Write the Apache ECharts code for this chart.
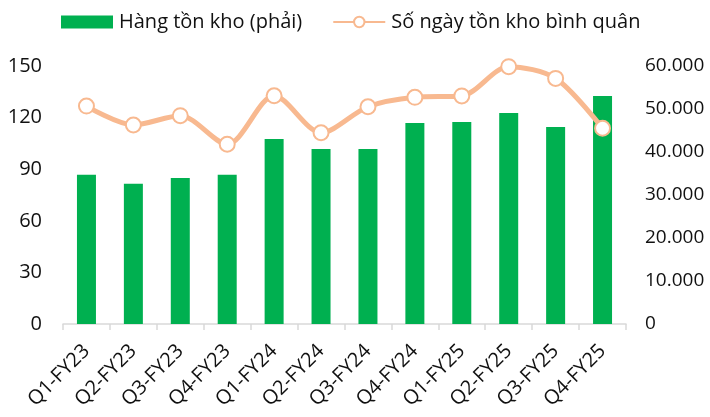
<!DOCTYPE html>
<html>
<head>
<meta charset="utf-8">
<script src="https://cdn.jsdelivr.net/npm/echarts@6/dist/echarts.min.js"></script>
<style>
  html, body { margin: 0; padding: 0; background: #fff; }
  #chart { width: 710px; height: 417px; }
</style>
</head>
<body>
<div id="chart"></div>
<script>
// quý
const categories = ['Q1-FY23', 'Q2-FY23', 'Q3-FY23', 'Q4-FY23', 'Q1-FY24', 'Q2-FY24',
  'Q3-FY24', 'Q4-FY24', 'Q1-FY25', 'Q2-FY25', 'Q3-FY25', 'Q4-FY25']
// Hàng tồn kho (trục phải)
const inventory = [34700, 32600, 33950, 34700, 43000, 40700, 40700, 46750, 46950, 49050, 45800, 53000]
// Số ngày tồn kho bình quân (trục trái)
const inventoryDays = [126.7, 115.7, 121.1, 104.5, 132.7, 111.2, 126.3, 131.8, 132.6, 149.6, 142.8, 113.8]

const font = 'Open Sans'
const chart = echarts.init(document.getElementById('chart'))
const option = {
  animation: false,
  textStyle: { fontFamily: font },
  legend: {
    top: 7,
    left: 56,
    itemWidth: 52,
    itemHeight: 13,
    itemGap: 30,
    textStyle: { fontSize: 20, color: '#111', fontFamily: font, padding: [0, 0, 0, 1] },
    data: [
      { name: 'Hàng tồn kho (phải)', icon: 'rect' },
      { name: 'Số ngày tồn kho bình quân' }
    ]
  },
  grid: { left: 63, right: 84, top: 66, bottom: 93 },
  xAxis: {
    type: 'category',
    data: categories,
    axisLine: { lineStyle: { color: '#D9D9D9', width: 1.5 } },
    axisTick: { show: true, length: 6, lineStyle: { color: '#D9D9D9', width: 1.5 } },
    axisLabel: { rotate: 45, interval: 0, fontSize: 20, color: '#111', margin: 24 }
  },
  yAxis: [
    {
      type: 'value',
      min: 0,
      max: 150,
      interval: 30,
      splitLine: { show: false },
      axisLine: { show: false },
      axisLabel: { fontSize: 20, color: '#111', margin: 21 }
    },
    {
      type: 'value',
      min: 0,
      max: 60000,
      interval: 10000,
      splitLine: { show: false },
      axisLine: { show: false },
      axisLabel: {
        fontSize: 19,
        color: '#111',
        margin: 19,
        formatter: v => v === 0 ? '0' : v.toLocaleString('de-DE')
      }
    }
  ],
  series: [
    {
      name: 'Hàng tồn kho (phải)',
      type: 'bar',
      yAxisIndex: 1,
      barWidth: 19,
      itemStyle: { color: '#00B050' },
      data: inventory
    },
    {
      name: 'Số ngày tồn kho bình quân',
      type: 'line',
      yAxisIndex: 0,
      smooth: 0.3,
      symbol: 'circle',
      symbolSize: 15,
      lineStyle: { color: '#F8B990', width: 5 },
      itemStyle: { color: '#fff', borderColor: '#F8B990', borderWidth: 2 },
      z: 5,
      data: inventoryDays
    }
  ]
}
chart.setOption(option)
</script>
</body>
</html>
